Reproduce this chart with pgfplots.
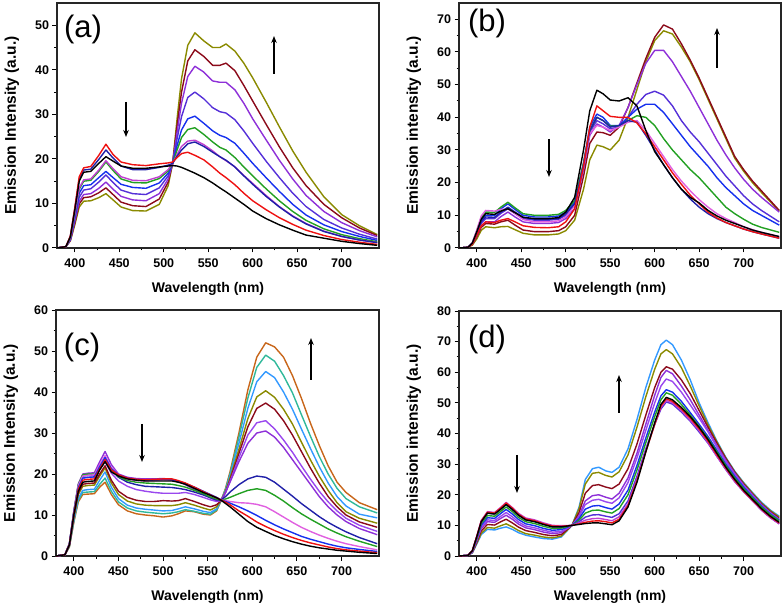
\documentclass[border=0pt]{standalone}
\usepackage{fontspec}
\setmainfont{Liberation Sans}
\usepackage{pgfplots}
\pgfplotsset{compat=1.18}
\usepackage{pgfplotstable}
\usetikzlibrary{arrows.meta}

\definecolor{cblack}{HTML}{000000}
\definecolor{cred}{HTML}{EE1111}
\definecolor{cnavy}{HTML}{2020A8}
\definecolor{cblue}{HTML}{1530EE}
\definecolor{cmag}{HTML}{C040D0}
\definecolor{cpink}{HTML}{E060E0}
\definecolor{cgreen}{HTML}{22A022}
\definecolor{cbviolet}{HTML}{5530D8}
\definecolor{cpurple}{HTML}{8E30D8}
\definecolor{cviolet}{HTML}{9A48EE}
\definecolor{cwine}{HTML}{8B0A1A}
\definecolor{colive}{HTML}{8A8A00}
\definecolor{cazure}{HTML}{3399FF}
\definecolor{cteal}{HTML}{30B89A}
\definecolor{cbrown}{HTML}{C8661A}

\pgfplotsset{spec/.style={
  scale only axis, width=322pt, height=245pt,
  xmin=380, xmax=742, ymin=0,
  xtick={400,450,...,700}, minor x tick num=1, minor y tick num=1,
  tick align=outside, xtick pos=left, ytick pos=left,
  major tick length=4.5pt, minor tick length=2.5pt,
  tick style={black, line width=1pt},
  axis line style={line width=1.3pt, black!85},
  tick label style={font=\bfseries\fontsize{12.5}{14}\selectfont},
  xticklabel style={yshift=-3pt},
  xlabel style={font=\bfseries\fontsize{14}{16}\selectfont, xshift=-10pt},
  ylabel style={font=\bfseries\fontsize{15.5}{17}\selectfont},
  xlabel shift=8pt, ylabel shift=9pt,
  xlabel={Wavelength (nm)},
  /pgf/number format/assume math mode=true,
  every axis plot/.append style={line width=1.4pt, no markers, line join=round},
}}

\pgfplotstableread{
x k1 k2 k3 k4 k5 k6 k7 k8 k9 k10
380 0 0 0 0 0 0 0 0 0 0
390 0.3 0.3 0.3 0.3 0.3 0.3 0.3 0.3 0.3 0.3
395 2.5 2.7 2.6 2.3 2.2 2.1 1.9 1.8 1.7 1.6
400 8.5 9 8.8 7.7 7.5 7 6.5 6 5.6 5.2
405 15 16 15.5 13.5 13.2 12.3 11.4 10.5 9.9 9.2
410 17 18 17.5 15.3 15 14 13 12 11.3 10.5
418 17.2 18.3 17.7 15.5 15.2 14.2 13.3 12.2 11.5 10.6
427 19 20.8 19.9 17.5 17.2 15.8 14.8 13.4 12.4 11.3
435 20.5 23.3 22 19.6 19.3 17.2 16.4 14.8 13.5 12.2
443 19.5 21 20.2 17.8 17.4 15.8 14.7 13.2 12.0 10.8
452 18.4 19.3 18.4 16.0 15.5 14.3 13 11.6 10.3 9.2
465 17.9 18.7 17.6 15.2 14.7 13.6 12.2 10.8 9.5 8.4
480 17.9 18.5 17.6 15.1 14.6 13.4 12 10.6 9.3 8.3
495 18.2 18.9 18.1 16.0 15.6 14.6 13.5 12.2 11.0 9.8
505 18.4 19.1 18.6 17.6 17.3 16.8 16.2 15.5 14.8 14
510 18.5 19.3 19 19 19 19 19 19 19 19
515 18.4 20.3 20.6 21 22 23 24.5 26 27.5 29
520 18.1 21.2 22 22.8 24.8 26.5 29.5 32.5 35 38
527 17.5 21.5 23.4 24 26.6 29 33.8 38.5 42 45.5
535 16.8 20.8 23.8 24.2 27 29.6 35 40.8 44.5 48.3
545 15.8 19.8 22.8 23.2 25.5 28 33.5 39.5 43 46.5
555 14.6 18.2 21.5 21.8 23.8 26.3 31.5 37.5 41 45
563 13.5 16.8 20.5 20.5 22.6 25.3 30.6 37.2 41 45
570 12.6 15.8 19.7 19.6 22.0 24.8 30.3 37.2 41.5 45.8
580 11.2 14.2 18.2 18.2 20.3 23.5 28.8 35.5 39.8 44.2
590 9.8 12.3 16.2 16.3 18.2 21.3 26.3 32.5 36.5 41.5
600 8.3 10.6 14.3 14.5 16.2 19.0 23.5 29 33 38.2
615 6.6 8.6 11.6 11.8 13.3 15.8 19.5 24.3 27.8 32.8
630 5.2 6.8 9.2 9.3 10.6 12.7 15.8 19.7 22.7 27.2
645 4.0 5.3 7.1 7.2 8.2 9.8 12.3 15.5 18 21.8
660 2.9 4.0 5.4 5.5 6.2 7.4 9.3 11.8 14 17
680 2.2 2.8 3.7 3.8 4.3 5.2 6.4 8.2 9.8 11.5
700 1.5 1.9 2.6 2.6 3.0 3.7 4.5 5.7 6.8 7.5
720 1.0 1.3 1.8 1.8 2.1 2.6 3.1 3.9 4.5 5
740 0.6 0.8 1.2 1.2 1.4 1.7 2.0 2.5 2.8 3
}\tabA

\pgfplotstableread{
x k1 k2 k3 k4 k5 k6 k7 k8 k9 k10
380 0 0 0 0 0 0 0 0 0 0
390 0.2 0.2 0.2 0.2 0.2 0.2 0.2 0.2 0.2 0.2
395 1.5 1.2 1.6 1.5 1.4 1.2 1.1 0.9 1.7 1.4
400 5 4 5.3 4.8 4.3 3.8 3.5 2.8 5.5 4.6
405 8.8 6.8 9.3 8.5 7.6 6.8 6.3 5.4 9.8 8.1
410 10.5 8 11 10 9 8 7.5 6.5 11.5 9.5
420 10.3 7.8 10.9 10 9 8 7.3 6.2 11.3 9.4
427 11.3 8.5 12.5 12 10.6 9.6 8 6.5 11.8 11
435 12 9 14 13.5 12 11 8.5 6.6 12 12.5
443 10.8 8 12.3 11.8 10.5 9.5 7 5.6 10.5 11
452 9.4 6.8 10.5 10 9 8 5.5 4.5 8.7 9.4
465 9 6.3 10 9.5 8.5 7.5 5 4 8 8.8
480 9 6.2 10 9.5 8.5 7.5 5 4 8 8.8
492 9.3 6.5 10.3 9.8 8.8 7.8 5.3 4.3 8.3 9
500 11 8 11.5 11 10 9 6.5 5.3 9.5 10.5
510 15.5 12 14.5 14 13 12 10 8.5 13 13.5
520 30 25 26 26 25 24 22 18 25 25.5
527 42 37 36 37 35.5 34.5 32 27 35 36
535 48.3 43.5 40 41 39 38 35.5 31.5 37.5 40
542 47.2 42 39 40 38 37 35.3 31 37 39
550 45.3 40.3 37.3 37.5 36.5 35.5 34.5 30 36 37
560 45 40 37.3 37.5 37 37.5 37 33 37 37.5
570 46 40 39 40 40 43 43 40 38.5 39
580 43.5 38.3 40.5 42.5 44 50 50.5 48.5 39 38.5
590 36 35 40 44 47 56.5 58 57 36 34.5
600 29.5 31 37.5 44 48 60.5 64.5 63.5 32 30
610 25.5 27 33.5 41.5 46.8 60.5 68.3 66.5 28 25.5
620 21.5 23 30 38 43.5 57 67 65.5 24 21.5
630 18 19.5 27 34.5 39 52.5 62.5 61.5 20.5 18
640 15.5 16.2 24 31 35.5 48 57.5 57 17.5 15
650 13.8 13.5 21.5 28 32.5 43 52 51.5 14.8 12.5
660 11.5 11 18.5 25 29 38 46 45.5 12.5 10.5
670 9.8 9.2 15.5 21.5 25.5 33 40 39.5 10.5 9
680 8.5 7.8 12.5 18.5 22 28.5 34 33.5 9 7.8
690 7.5 6.8 10.5 16 19 24.5 28 27.5 7.8 6.8
700 6.5 5.8 8.8 13.5 16 21 24 23.5 6.5 5.8
710 5.5 5 7.3 11.5 13.5 18 20.5 20 5.6 5
720 4.8 4.3 6.3 10 11.5 15.5 17.5 17 4.8 4.3
740 3.5 3 4.8 7 8 11 11.5 11.3 3.5 3
}\tabB

\pgfplotstableread{
x k1 k2 k3 k4 k5 k6 k7 k8 k9 k10 k11 k12 k13
380 0 0 0 0 0 0 0 0 0 0 0 0 0
390 0.3 0.3 0.3 0.3 0.3 0.3 0.3 0.3 0.3 0.3 0.3 0.3 0.3
395 2.7 2.8 2.9 2.9 3 2.9 3 2.8 2.6 2.5 2.4 2.3 2.2
400 10 10.2 10.5 10.7 10.9 10.7 11 10.5 9.6 9.4 8.8 8.5 8.2
405 15.8 16.3 16.7 17.2 17.4 17.2 17.6 16.7 15.4 15 14.1 13.6 13.2
410 18 18.5 19 19.5 19.8 19.5 20 19 17.5 17 16 15.5 15
416 18.2 18.7 19.2 19.7 20 19.7 20.2 19.2 17.7 17.2 16.2 15.6 15.1
423 18.3 18.8 19.3 19.8 20 19.8 20.3 19.2 17.8 17.3 16.3 15.7 15.2
429 21 21.3 21.8 22.3 21.8 22 23 21.2 20 19.5 18.5 17.5 16.8
435 23 23.5 24 24.5 23.5 24 25.5 23 22 21.5 20.5 19 18
442 20.5 21 21.3 21.6 21 21 22.3 20.2 18.5 17.8 16.8 15.8 15
450 19.5 19.8 19.8 19.8 19.4 19.2 20 18.3 15.8 15 14 13.2 12.5
460 18.8 19 19 18.8 18.4 18 19.2 17 14.3 13.4 12.4 11.7 11
470 18.5 18.7 18.6 18.4 18 17.4 18.9 16.2 13.6 12.7 11.7 11 10.3
480 18.3 18.6 18.5 18.3 17.8 17 18.8 15.8 13.3 12.4 11.4 10.7 10
490 18.3 18.7 18.6 18.4 17.7 16.9 18.8 15.5 13.3 12.3 11.2 10.5 9.8
500 18.3 18.8 18.7 18.6 17.6 16.8 18.9 15.3 13.5 12.3 11 10.3 9.5
510 18.3 18.8 18.6 18.5 17.5 16.7 18.7 15.3 13.4 12.3 11.1 10.5 9.8
517 18 18.4 18.2 18.1 17.2 16.5 18.2 15.3 13.5 12.5 11.5 10.8 10.3
525 17.5 17.8 17.7 17.6 16.8 16.2 17.4 15.5 14 13 12 11.3 11
535 16.5 16.8 16.8 16.7 16 15.6 16.2 15 13.3 12.4 11.5 10.9 10.8
545 15.5 15.7 15.8 15.7 15.2 14.9 15.1 14.3 12.5 11.7 10.9 10.4 10.2
553 14.8 14.9 15 14.9 14.4 14.2 14.2 13.7 12 11.2 10.6 10.2 10
560 14.2 14.2 14.3 14.2 13.9 13.7 13.5 13.3 12.5 12 11.5 11.2 11
565 13.6 13.7 13.7 13.7 13.6 13.6 13.5 13.5 13.5 13.5 13.5 13.5 13.5
570 12.8 13.1 13.3 13.5 13.9 14.5 15.5 15.5 15.5 15.8 16 16.3 16.5
575 12 12.5 12.9 13.3 14.3 15.6 18 18.2 18.5 19 19.5 20 20.5
585 10.2 11 12 13 15.2 17.4 23 24 25 26 27.5 29 30
595 8.4 9.7 11 12.9 16 18.8 27.5 29.5 31.5 33.5 36 38.5 40.5
605 7 8.3 9.9 12.6 16.4 19.5 30 32.5 36 38.8 42.5 46 48.5
615 6 7.2 8.7 12 16 19.2 30.5 33 37.3 40.3 45 49 52
625 5 6.2 7.6 10.8 14.8 18 29 31 35.8 38.7 43.5 47.5 51
635 4.2 5.3 6.6 9.5 13.4 16.3 26.5 28.3 33 35.8 40 44 48.5
645 3.5 4.5 5.7 8.2 11.8 14.6 23.5 25.3 29.5 32.2 35.8 39.8 44
655 2.9 3.8 4.8 7 10.3 12.8 20.5 22 25.5 27.8 31 34.5 38.5
665 2.4 3.2 4.1 6 9 11.2 17.5 18.8 21.5 23.5 26.3 29.3 32.5
675 2 2.7 3.5 5.1 7.8 9.6 14.5 15.8 17.8 19.5 21.8 24.3 27
685 1.7 2.2 2.9 4.3 6.6 8.2 12 13.2 14.5 16 17.8 20 22
695 1.4 1.8 2.4 3.6 5.6 7 10 11 12 13 14.5 16.5 18
705 1.2 1.5 2 3 4.7 5.9 8.4 9.2 10 10.8 12.2 14 15.5
720 0.9 1.2 1.6 2.3 3.6 4.5 6.7 7.5 8.3 9.2 10.2 12 13
740 0.6 0.8 1.1 1.5 2.3 3 5.2 6 7 8 9.3 10.5 11.3
}\tabC

\pgfplotstableread{
x k1 k2 k3 k4 k5 k6 k7 k8 k9 k10 k11
380 0 0 0 0 0 0 0 0 0 0 0
390 0.2 0.2 0.2 0.2 0.2 0.2 0.2 0.2 0.2 0.2 0.2
395 1.7 1.7 1.8 1.7 1.6 1.5 1.4 1.3 1.2 1.1 1
400 6.3 6.4 6.5 6.3 5.9 5.6 5.3 5 4.6 4.2 3.9
405 11.2 11.4 11.6 11.2 10.6 10 9.4 9 8.2 7.4 7
412 14 14.3 14.5 14 13.2 12.5 11.8 11.2 10.3 9.3 8.7
420 13.7 14 14.2 13.7 13 12.3 11.6 11 10.1 9.1 8.5
427 15.3 15.7 15.9 15.4 14.6 13.9 13 12.3 11.2 9.9 9.1
433 16.8 17.3 17.5 16.8 16 15.2 14.2 13.3 12 10.5 9.5
440 15.2 15.6 15.8 15.2 14.5 13.7 12.8 12 10.8 9.5 8.7
447 13.3 13.6 13.9 13.3 12.6 11.9 11.1 10.4 9.4 8.3 7.6
455 11.8 12.1 12.4 11.8 11.2 10.5 9.8 9.2 8.3 7.3 6.8
465 11.2 11.5 11.8 11.3 10.6 9.9 9.2 8.6 7.7 6.8 6.2
475 10.3 10.5 10.8 10.3 9.7 9 8.4 7.8 7 6.2 5.7
485 9.5 9.8 10 9.6 9 8.4 7.8 7.3 6.6 5.9 5.5
495 9.5 9.7 9.9 9.6 9.1 8.6 8 7.6 7 6.5 6.2
507 10 10 10 10 10 10 10 10 10 10 10
515 10.3 10.5 10.8 11.2 11.7 12.2 12.8 13.2 14.2 15.5 16
522 10.6 11 11.7 12.7 14 15.3 16.8 18 20.5 23.5 25
530 10.8 11.4 12.2 13.4 14.9 16.3 18.2 19.7 23 27 28.5
537 10.8 11.5 12.3 13.5 15 16.5 18.5 20 23.3 27.3 29
545 10.5 11.2 11.9 13 14.4 15.8 17.7 19.2 22.5 26.3 27.8
552 10.2 10.8 11.5 12.6 14 15.3 17.2 18.6 22 25.8 27.3
560 11.5 12 12.8 13.8 15.5 17 19 20.5 23.5 27.5 29
570 16 16.5 17 18 20 21.5 24 25.5 28.5 33 35
580 24 24.5 25 26 28 29.5 32 33.5 36.5 42 44.5
590 34 34 34.5 35 37 38.5 41 43 46 52 55
600 43.5 43 43 43 45.5 47 50 52.5 55 61 64
607 49.5 49 48.5 48 51 52.3 55.5 58.3 60 66 69
613 51.8 51.3 50.8 50.3 53.3 54.3 57.8 60.6 61.8 67.4 70.5
620 51 50.5 50 49.6 52.5 53.5 57 59.5 61 66 69
630 48.5 48 47.5 47 49.5 50.5 53.5 55.5 57.5 61.5 64
640 45.5 45 44.3 44 46 46.8 49.3 51 53 55.5 57.5
650 42 41.5 41 40.5 42.3 43 45 46 47.5 49 50
660 38 37.5 37 36.8 38.3 39 40.5 41 42 42.8 43.5
670 33.5 33 32.5 32.5 34 34.5 35.5 36 36.8 37.2 37.5
680 29 28.7 28.3 28.2 29.5 30 30.8 31.3 31.8 32 32.2
690 25 24.7 24.3 24.3 25.5 26 26.5 27 27.3 27.5 27.7
700 21.5 21.2 21 21 22 22.5 23 23.2 23.5 23.8 24
710 18.5 18.2 18 18 19 19.3 19.7 20 20.2 20.5 20.7
720 15.5 15.3 15 15 16 16.3 16.5 16.8 17 17.3 17.6
730 13 12.8 12.5 12.5 13.5 13.7 14 14.2 14.5 14.8 15
740 11 10.8 10.5 10.5 11.5 11.7 11.8 12 12.3 12.7 13
}\tabD

\begin{document}
\begin{tikzpicture}
\useasboundingbox (0,0) rectangle (784pt,605pt);

% (a)
\begin{axis}[spec, at={(57pt,357pt)}, anchor=south west,
  ymax=55, ytick={0,10,...,50}, ylabel={Emission Intensity (a.u.)}]
\addplot[colive] table[x=x,y=k10]{\tabA};
\addplot[cwine] table[x=x,y=k9]{\tabA};
\addplot[cpurple] table[x=x,y=k8]{\tabA};
\addplot[cbviolet] table[x=x,y=k7]{\tabA};
\addplot[cblue] table[x=x,y=k6]{\tabA};
\addplot[cgreen] table[x=x,y=k5]{\tabA};
\addplot[cmag] table[x=x,y=k4]{\tabA};
\addplot[cnavy] table[x=x,y=k3]{\tabA};
\addplot[cred] table[x=x,y=k2]{\tabA};
\addplot[cblack] table[x=x,y=k1]{\tabA};
\end{axis}

% (b)
\begin{axis}[spec, at={(459pt,357pt)}, anchor=south west,
  ymax=75, ytick={0,10,...,70}, ylabel={Emission intensity (a.u.)}]
\addplot[colive] table[x=x,y=k8]{\tabB};
\addplot[cwine] table[x=x,y=k7]{\tabB};
\addplot[cpurple] table[x=x,y=k6]{\tabB};
\addplot[cbviolet] table[x=x,y=k5]{\tabB};
\addplot[cblue] table[x=x,y=k4]{\tabB};
\addplot[cgreen] table[x=x,y=k3]{\tabB};
\addplot[cpink] table[x=x,y=k9]{\tabB};
\addplot[cnavy] table[x=x,y=k10]{\tabB};
\addplot[cred] table[x=x,y=k2]{\tabB};
\addplot[cblack] table[x=x,y=k1]{\tabB};
\end{axis}

% (c)
\begin{axis}[spec, at={(56pt,49pt)}, anchor=south west, height=246pt, width=323pt,
  ymax=60, ytick={0,10,...,60}, ylabel={Emission Intensity (a.u.)}]
\addplot[cbrown] table[x=x,y=k13]{\tabC};
\addplot[cteal] table[x=x,y=k12]{\tabC};
\addplot[cazure] table[x=x,y=k11]{\tabC};
\addplot[colive] table[x=x,y=k10]{\tabC};
\addplot[cwine] table[x=x,y=k9]{\tabC};
\addplot[cviolet] table[x=x,y=k8]{\tabC};
\addplot[cpurple] table[x=x,y=k7]{\tabC};
\addplot[cnavy] table[x=x,y=k6]{\tabC};
\addplot[cgreen] table[x=x,y=k5]{\tabC};
\addplot[cpink] table[x=x,y=k4]{\tabC};
\addplot[cblue] table[x=x,y=k3]{\tabC};
\addplot[cred] table[x=x,y=k2]{\tabC};
\addplot[cblack] table[x=x,y=k1]{\tabC};
\end{axis}

% (d)
\begin{axis}[spec, at={(459pt,49pt)}, anchor=south west,
  ymax=80, ytick={0,10,...,80}, ylabel={Emission intensity (a.u.)}]
\addplot[cazure] table[x=x,y=k11]{\tabD};
\addplot[colive] table[x=x,y=k10]{\tabD};
\addplot[cwine] table[x=x,y=k9]{\tabD};
\addplot[cpurple] table[x=x,y=k8]{\tabD};
\addplot[cviolet] table[x=x,y=k7]{\tabD};
\addplot[cblue] table[x=x,y=k6]{\tabD};
\addplot[cgreen] table[x=x,y=k5]{\tabD};
\addplot[cbviolet] table[x=x,y=k4]{\tabD};
\addplot[cmag] table[x=x,y=k3]{\tabD};
\addplot[cred] table[x=x,y=k2]{\tabD};
\addplot[cblack] table[x=x,y=k1]{\tabD};
\end{axis}

% panel labels
\node[font=\fontsize{31}{31}\selectfont] at (83pt,576pt) {(a)};
\node[font=\fontsize{31}{31}\selectfont] at (487pt,582pt) {(b)};
\node[font=\fontsize{31}{31}\selectfont] at (82pt,258pt) {(c)};
\node[font=\fontsize{31}{31}\selectfont] at (487pt,266pt) {(d)};

% arrows
\begin{scope}[line width=1.7pt, black]
\draw[-{Stealth[length=7pt,width=5.5pt]}] (126pt,503pt) -- (126pt,468pt);
\draw[-{Stealth[length=7pt,width=5.5pt]}] (274pt,531pt) -- (274pt,569pt);
\draw[-{Stealth[length=7pt,width=5.5pt]}] (549pt,466pt) -- (549pt,428pt);
\draw[-{Stealth[length=7pt,width=5.5pt]}] (717pt,537pt) -- (717pt,577pt);
\draw[-{Stealth[length=7pt,width=5.5pt]}] (142pt,181pt) -- (142pt,143pt);
\draw[-{Stealth[length=7pt,width=5.5pt]}] (311pt,225pt) -- (311pt,267pt);
\draw[-{Stealth[length=7pt,width=5.5pt]}] (517pt,150pt) -- (517pt,112pt);
\draw[-{Stealth[length=7pt,width=5.5pt]}] (619pt,192pt) -- (619pt,230pt);
\end{scope}
\end{tikzpicture}
\end{document}
